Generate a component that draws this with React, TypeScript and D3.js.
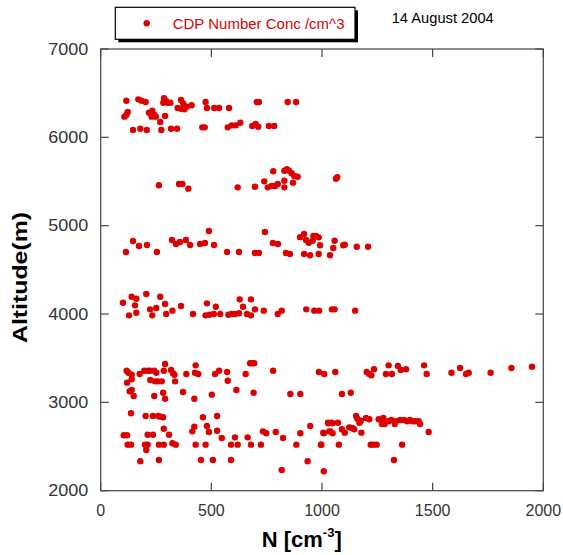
import React, { useRef, useEffect } from 'react';
import * as d3 from 'd3';

// [N (cm^-3), altitude (m)], grouped by flight level
const band6200: [number, number][] = [
  [116, 6415], [170, 6430], [185, 6415], [203, 6400], [286, 6442], [294, 6415], [283, 6392], [303, 6392],
  [315, 6392], [363, 6423], [373, 6385], [348, 6332], [363, 6324], [378, 6318], [389, 6347], [411, 6363],
  [474, 6400], [480, 6332], [513, 6332], [535, 6332], [580, 6332], [705, 6400], [715, 6400], [845, 6400],
  [883, 6400], [122, 6287], [117, 6256], [107, 6234], [218, 6279], [233, 6302], [242, 6256], [230, 6234],
  [249, 6234], [291, 6242], [269, 6174], [146, 6083], [179, 6098], [208, 6083], [274, 6083], [318, 6098],
  [345, 6098], [459, 6113], [470, 6113], [574, 6113], [592, 6136], [610, 6136], [631, 6166], [685, 6128],
  [700, 6151], [712, 6120], [760, 6128], [784, 6128],
];

const band5500: [number, number][] = [
  [263, 5457], [354, 5472], [369, 5472], [396, 5419], [619, 5434], [697, 5441], [739, 5502], [755, 5434],
  [773, 5449], [788, 5449], [800, 5472], [780, 5616], [830, 5622], [841, 5638], [851, 5622], [863, 5593],
  [875, 5562], [890, 5554], [830, 5509], [830, 5434], [869, 5487], [1063, 5532], [1069, 5548],
];

const band4800: [number, number][] = [
  [114, 4702], [146, 4827], [173, 4770], [209, 4781], [254, 4702], [322, 4838], [340, 4793], [358, 4815],
  [385, 4838], [404, 4781], [449, 4793], [471, 4804], [489, 4940], [512, 4781], [571, 4702], [625, 4702],
  [697, 4691], [715, 4691], [742, 4929], [778, 4804], [801, 4793], [837, 4691], [855, 4679], [901, 4870],
  [919, 4906], [928, 4838], [940, 4807], [958, 4830], [961, 4883], [973, 4883], [985, 4868], [991, 4778],
  [1057, 4830], [1051, 4747], [1096, 4778], [1103, 4785], [1157, 4762], [1208, 4762], [919, 4679],
  [946, 4665], [985, 4679], [1036, 4665],
];

const band4000: [number, number][] = [
  [101, 4128], [140, 4196], [161, 4173], [155, 4098], [128, 3985], [161, 4015], [206, 4226], [223, 4053],
  [233, 3985], [251, 4068], [269, 4196], [291, 4113], [296, 4000], [324, 4038], [363, 4090], [417, 4000],
  [480, 4121], [474, 3985], [492, 3992], [511, 4000], [520, 4083], [540, 4000], [577, 3992], [592, 4000],
  [607, 4000], [625, 4008], [628, 4166], [643, 4083], [679, 4166], [661, 4000], [679, 3985], [697, 4053],
  [737, 4038], [800, 4000], [818, 4038], [929, 4053], [965, 4038], [987, 4038], [1045, 4053], [1057, 4053],
  [1150, 4038],
];

const band3300: [number, number][] = [
  [117, 3358], [125, 3336], [140, 3313], [119, 3223], [140, 3261], [176, 3321], [197, 3358], [212, 3358],
  [223, 3358], [242, 3358], [251, 3336], [291, 3434], [285, 3358], [318, 3366], [327, 3329], [333, 3313],
  [224, 3253], [245, 3238], [258, 3238], [276, 3238], [336, 3238], [387, 3321], [429, 3419], [426, 3336],
  [441, 3321], [517, 3321], [535, 3358], [571, 3344], [574, 3245], [655, 3321], [675, 3442], [685, 3442],
  [694, 3442], [779, 3358], [986, 3344], [1010, 3321], [1060, 3344], [1202, 3344], [1214, 3321],
  [1223, 3306], [1235, 3374], [1301, 3419], [1289, 3321], [1316, 3321], [1343, 3412], [1356, 3366],
  [1380, 3374], [1461, 3419], [1473, 3321], [1585, 3336], [1624, 3389], [1651, 3321], [1663, 3336],
  [1762, 3336], [1856, 3389], [1949, 3404],
  [131, 3125], [140, 3140], [149, 3072], [242, 3072], [282, 3109], [291, 3041], [372, 3117], [423, 3041],
  [502, 3087], [613, 3140], [691, 3109], [857, 3094], [902, 3094], [1090, 3094], [1130, 3109],
];

const band2700: [number, number][] = [
  [137, 2876], [203, 2846], [236, 2846], [260, 2846], [269, 2838], [282, 2831], [462, 2831], [526, 2846],
  [423, 2724], [414, 2672], [480, 2732], [489, 2664], [526, 2679], [285, 2702], [309, 2634], [104, 2627],
  [119, 2627], [212, 2634], [236, 2634], [122, 2521], [137, 2521], [200, 2521], [212, 2521], [206, 2461],
  [263, 2521], [285, 2521], [324, 2537], [339, 2521], [429, 2521], [474, 2521], [547, 2597], [589, 2521],
  [607, 2604], [619, 2521], [664, 2604], [679, 2521], [724, 2521], [733, 2672], [748, 2650], [791, 2664],
  [824, 2597], [884, 2521], [902, 2650], [947, 2732], [995, 2521], [1008, 2650], [1029, 2763], [1038, 2672],
  [1047, 2763], [1154, 2846], [1160, 2815], [1169, 2770], [1175, 2792], [1199, 2823], [1214, 2808],
  [1027, 2770], [1042, 2770], [1072, 2770], [1006, 2657], [1033, 2672], [1048, 2650], [1090, 2695],
  [1103, 2657], [1123, 2717], [1136, 2710], [1145, 2695], [1178, 2657], [1256, 2808], [1277, 2823],
  [1271, 2755], [1283, 2755], [1301, 2786], [1313, 2800], [1334, 2786], [1329, 2755], [1353, 2800],
  [1371, 2800], [1386, 2786], [1398, 2800], [1410, 2786], [1422, 2786], [1437, 2786], [1443, 2755],
  [1482, 2664], [997, 2521], [1076, 2521], [1220, 2521], [1232, 2521], [1247, 2521], [1362, 2521],
];

const band2300: [number, number][] = [
  [179, 2333], [263, 2347], [453, 2347], [507, 2347], [589, 2347], [818, 2234], [935, 2333], [1008, 2220],
  [1325, 2347],
];

const xTicks = [0, 500, 1000, 1500, 2000];
const yTicks = [2000, 3000, 4000, 5000, 6000, 7000];
const legendLabel = 'CDP Number Conc /cm^3';
const dateLabel = '14 August 2004';

const RED = '#dd0000';
const FONT = 'Arial, "Liberation Sans", sans-serif';

function App() {
  const svgRef = useRef<SVGSVGElement>(null);

  useEffect(() => {
    const svg = d3.select(svgRef.current);
    svg.selectAll('*').remove();

    const left = 100.7, right = 543.3, top = 49, bottom = 490.7;
    const x = d3.scaleLinear().domain([0, 2000]).range([left, right]);
    const y = d3.scaleLinear().domain([2000, 7000]).range([bottom, top]);
    const frame = '#444';

    // frame
    svg.append('rect')
      .attr('x', left).attr('y', top)
      .attr('width', right - left).attr('height', bottom - top)
      .attr('fill', 'none').attr('stroke', frame).attr('stroke-width', 1.2);

    // inward ticks on all four sides
    const tl = 8;
    xTicks.forEach(t => {
      svg.append('line').attr('x1', x(t)).attr('x2', x(t)).attr('y1', bottom).attr('y2', bottom - tl)
        .attr('stroke', frame).attr('stroke-width', 1.2);
      svg.append('line').attr('x1', x(t)).attr('x2', x(t)).attr('y1', top).attr('y2', top + tl)
        .attr('stroke', frame).attr('stroke-width', 1.2);
      svg.append('text').attr('x', x(t)).attr('y', 516)
        .attr('text-anchor', 'middle').attr('font-family', FONT).attr('font-size', 16)
        .attr('fill', '#333').text(t);
    });
    yTicks.forEach(t => {
      svg.append('line').attr('x1', left).attr('x2', left + tl).attr('y1', y(t)).attr('y2', y(t))
        .attr('stroke', frame).attr('stroke-width', 1.2);
      svg.append('line').attr('x1', right).attr('x2', right - tl).attr('y1', y(t)).attr('y2', y(t))
        .attr('stroke', frame).attr('stroke-width', 1.2);
      svg.append('text').attr('x', 88.3).attr('y', y(t) + 5.5)
        .attr('text-anchor', 'end').attr('font-family', FONT).attr('font-size', 16)
        .attr('textLength', 40).attr('lengthAdjust', 'spacingAndGlyphs')
        .attr('fill', '#333').text(t);
    });

    // points
    const all = [...band6200, ...band5500, ...band4800, ...band4000, ...band3300, ...band2700, ...band2300];
    svg.append('g').selectAll('circle')
      .data(all)
      .enter()
      .append('circle')
      .attr('cx', d => x(d[0]))
      .attr('cy', d => y(d[1]))
      .attr('r', 3.2)
      .attr('fill', RED);

    // axis titles
    svg.append('text')
      .attr('transform', 'translate(27,277.5) rotate(-90)')
      .attr('text-anchor', 'middle').attr('font-family', FONT).attr('font-weight', 'bold')
      .attr('font-size', 20).attr('textLength', 131).attr('lengthAdjust', 'spacingAndGlyphs')
      .attr('fill', '#000').text('Altitude(m)');

    const xt = svg.append('text').attr('x', 261.7).attr('y', 547)
      .attr('font-family', FONT).attr('font-weight', 'bold').attr('font-size', 22).attr('fill', '#000');
    xt.append('tspan').text('N [cm');
    xt.append('tspan').attr('font-size', 13).attr('dy', -10).text('-3');
    xt.append('tspan').attr('dy', 10).text(']');

    // legend box with shadow
    svg.append('rect').attr('x', 118.3).attr('y', 10.3).attr('width', 239.7).attr('height', 32)
      .attr('fill', '#000');
    svg.append('rect').attr('x', 115.3).attr('y', 7.3).attr('width', 239.7).attr('height', 32)
      .attr('fill', '#fff').attr('stroke', '#000').attr('stroke-width', 1.2);
    svg.append('circle').attr('cx', 146.7).attr('cy', 23.3).attr('r', 3.2).attr('fill', RED);
    svg.append('text').attr('x', 172.7).attr('y', 29)
      .attr('font-family', FONT).attr('font-size', 15).attr('fill', RED).text(legendLabel);

    svg.append('text').attr('x', 391.7).attr('y', 22.5)
      .attr('font-family', FONT).attr('font-size', 14.7).attr('fill', '#000').text(dateLabel);
  }, []);

  return (
    <div style={{ position: 'absolute', left: 0, top: 0 }}>
      <svg ref={svgRef} width={563} height={555} style={{ display: 'block', background: '#fff' }} />
    </div>
  );
}

export default App;
